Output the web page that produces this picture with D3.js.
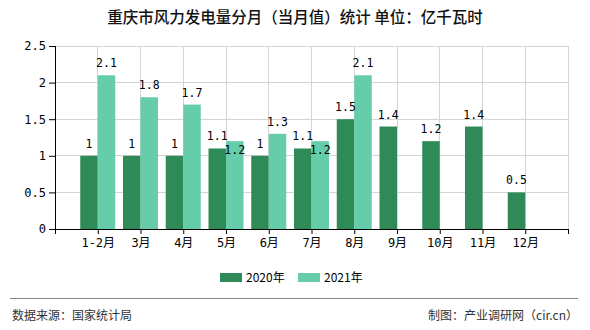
<!DOCTYPE html>
<html><head><meta charset="utf-8">
<script src="https://cdn.jsdelivr.net/npm/d3@7/dist/d3.min.js"></script>
<style>
body{margin:0;background:#fff;}
svg{display:block;}
</style></head>
<body>
<svg id="c" width="590" height="330"></svg>
<script>
const categories = ["1-2月","3月","4月","5月","6月","7月","8月","9月","10月","11月","12月"];
const values2020 = [1,1,1,1.1,1,1.1,1.5,1.4,1.2,1.4,0.5];
const values2021 = [2.1,1.8,1.7,1.2,1.3,1.2,2.1,null,null,null,null];
const seriesNames = ["2020年","2021年"];
const yTicks = [0,0.5,1,1.5,2,2.5];
const colors = ["#2E8B57","#66CDAA"];
const title = "重庆市风力发电量分月（当月值）统计 单位：亿千瓦时";
const sourceText = "数据来源：国家统计局";
const creditText = "制图：产业调研网（cir.cn）";

const svg = d3.select("#c");
const L = 55, R = 568, T = 46, B = 229;
const numFont = "'DejaVu Sans Mono','Noto Sans CJK SC',monospace";
const cjkFont = "'Noto Sans CJK SC','Noto Sans',sans-serif";

const x = d3.scalePoint().domain(["__s", ...categories, "__e"]).range([L, R]);
const y = d3.scaleLinear().domain([0, 2.5]).range([B, T]);
const barW = 17.5;

// grid
const g = svg.append("g");
g.selectAll("line.hg").data(yTicks.filter(d=>d>0)).enter().append("line")
  .attr("x1", L).attr("x2", R).attr("y1", d=>y(d)).attr("y2", d=>y(d))
  .attr("stroke", "#d4d4d4").attr("stroke-width", 1).attr("shape-rendering","crispEdges");
g.selectAll("line.vg").data([...categories, "__e"]).enter().append("line")
  .attr("x1", d=>x(d)).attr("x2", d=>x(d)).attr("y1", T).attr("y2", B)
  .attr("stroke", "#d4d4d4").attr("stroke-width", 1).attr("shape-rendering","crispEdges");

// bars
const data = categories.map((c,i)=>({c, v:[values2020[i], values2021[i]]}));
data.forEach(d=>{
  d.v.forEach((v,k)=>{
    if (v==null) return;
    g.append("rect")
      .attr("x", x(d.c) + (k===0 ? -barW : 0))
      .attr("y", y(v)).attr("width", barW).attr("height", y(0)-y(v))
      .attr("fill", colors[k]);
  });
});

// axes
const yAxis = d3.axisLeft(y).tickValues(yTicks).tickFormat(d=>d).tickSize(6).tickPadding(3);
const ya = svg.append("g").attr("transform", `translate(${L},0)`).call(yAxis);
ya.select(".domain").attr("stroke","#000").attr("d", `M-6,${B+0.5}H0.5V${T}`).remove();
svg.append("line").attr("x1",L+0.5).attr("x2",L+0.5).attr("y1",T).attr("y2",B).attr("stroke","#000");
ya.selectAll(".tick line").attr("stroke","#000");
ya.selectAll("text").attr("font-family",numFont).attr("font-size",12).attr("fill","#000");

const xAxis = d3.axisBottom(x).tickFormat(d=>d.startsWith("__")?"":d).tickSize(5).tickPadding(4).tickSizeOuter(0);
const xa = svg.append("g").attr("transform", `translate(0,${B})`).call(xAxis);
xa.select(".domain").attr("stroke","#000");
xa.selectAll(".tick line").attr("stroke","#000");
xa.selectAll("text").attr("font-family",numFont).attr("font-size",12).attr("fill","#000");

// value labels with simple overlap avoidance
const lab = svg.append("g").attr("font-family", numFont).attr("font-size", 11.5).attr("fill","#000").attr("text-anchor","middle");
data.forEach(d=>{
  const boxes = [];
  d.v.forEach((v,k)=>{
    if (v==null) return;
    const cx = x(d.c) + (k===0 ? -barW/2 : barW/2);
    let by = y(v) - 8;
    const t = lab.append("text").attr("x", cx).attr("y", by).text(v);
    const bb = t.node().getBBox();
    let box = {x0:bb.x, x1:bb.x+bb.width, y0:bb.y, y1:bb.y+bb.height};
    boxes.forEach(o=>{
      if (box.x0 < o.x1+2 && box.x1 > o.x0-2 && box.y0 < o.y1 && box.y1 > o.y0) {
        const dy = o.y1 - box.y0;
        by += dy; box.y0 += dy; box.y1 += dy;
        t.attr("y", by);
      }
    });
    boxes.push(box);
  });
});

// title
svg.append("text").attr("x", 295).attr("y", 23).attr("text-anchor","middle")
  .attr("font-family", cjkFont).attr("font-size", 15.5).attr("font-weight", 500).attr("fill","#111").text(title);

// legend
const lg = svg.append("g").attr("font-family", cjkFont).attr("font-size", 12).attr("fill","#000");
const lx = [220, 298];
seriesNames.forEach((n,k)=>{
  lg.append("rect").attr("x", lx[k]).attr("y", 273).attr("width", 22).attr("height", 9).attr("fill", colors[k]);
  lg.append("text").attr("x", lx[k]+26).attr("y", 282).text(n);
});

// footer
svg.append("line").attr("x1",10).attr("x2",578).attr("y1",298.5).attr("y2",298.5).attr("stroke","#888").attr("stroke-width",1);
svg.append("text").attr("x",12).attr("y",320).attr("font-family",cjkFont).attr("font-size",12).attr("fill","#333").text(sourceText);
svg.append("text").attr("x",578).attr("y",320).attr("text-anchor","end").attr("font-family",cjkFont).attr("font-size",12).attr("fill","#333").text(creditText);
</script>
</body></html>
